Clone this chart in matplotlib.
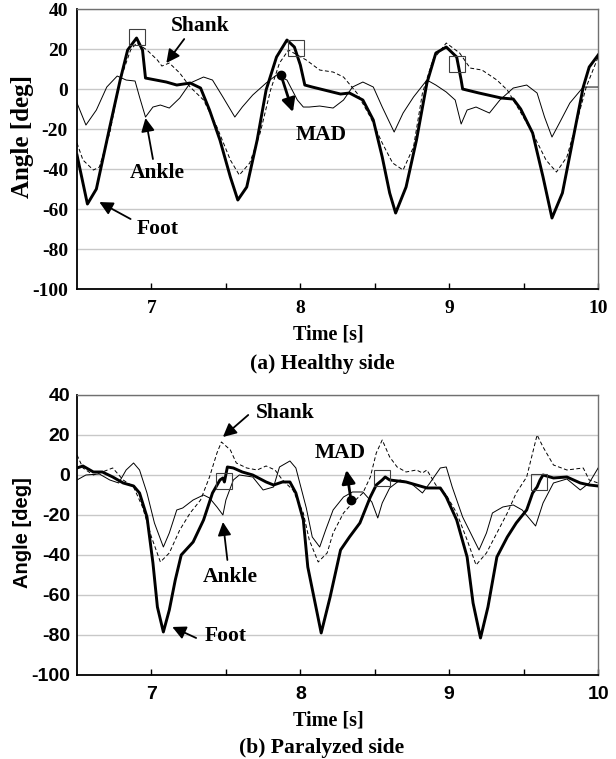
import numpy as np
import matplotlib
matplotlib.use('Agg')
import matplotlib.pyplot as plt

plt.rcParams['axes.unicode_minus'] = False
plt.rcParams['lines.solid_joinstyle'] = 'round'
plt.rcParams['lines.dash_joinstyle'] = 'round'

# (a) healthy side
a_foot_t = [6.50, 6.57, 6.63, 6.72, 6.79, 6.84, 6.90, 6.94, 6.96, 7.10, 7.17, 7.26, 7.33, 7.39, 7.46,
            7.53, 7.58, 7.64, 7.71, 7.77, 7.84, 7.91, 7.96, 8.00, 8.03, 8.08, 8.27, 8.33, 8.42, 8.49,
            8.55, 8.60, 8.64, 8.71, 8.78, 8.85, 8.91, 8.98, 9.05, 9.08, 9.09, 9.20, 9.35, 9.43, 9.48,
            9.56, 9.63, 9.69, 9.76, 9.83, 9.90, 9.94, 10.0]
a_foot = [-33, -57.5, -50, -19, 4.5, 19.5, 25.5, 19.5, 5.5, 3.5, 2, 3, 0.5, -10.5, -25.5,
          -44, -55.5, -49, -25.5, -0.5, 16, 24.5, 21, 12, 2, 1, -2.5, -2, -5.5, -15.5,
          -34, -52, -62, -49, -25.5, 3, 18, 21, 16, 4.5, 0, -2, -4.5, -5, -10,
          -22, -44, -64.5, -52, -25.5, 1, 11, 17]

a_shank_t = [6.50, 6.54, 6.61, 6.65, 6.72, 6.79, 6.86, 6.90, 6.97, 7.04, 7.07, 7.12, 7.19, 7.26, 7.35,
             7.44, 7.53, 7.59, 7.66, 7.73, 7.80, 7.86, 7.92, 8.04, 8.13, 8.22, 8.29, 8.38, 8.47, 8.55,
             8.62, 8.69, 8.76, 8.82, 8.89, 8.98, 9.07, 9.14, 9.22, 9.32, 9.39, 9.47, 9.56, 9.65, 9.72,
             9.79, 9.86, 9.92, 10.0]
a_shank = [-27, -35.5, -40.5, -39, -22, 4.5, 19.5, 23, 19.5, 14.5, 11.5, 13, 8, 1, -5.5,
           -19, -35.5, -43, -37, -22, -0.5, 13, 19.5, 14.5, 9.5, 8.5, 6, -2, -14, -27,
           -37, -40.5, -29, -2, 14.5, 23, 18, 10.5, 9.5, 4.5, -0.5, -10.5, -22, -35.5, -41.5,
           -34, -15.5, 1, 16]

a_ankle_t = [6.50, 6.56, 6.63, 6.70, 6.77, 6.83, 6.89, 6.92, 6.96, 7.01, 7.06, 7.12, 7.19, 7.26, 7.35,
             7.41, 7.48, 7.56, 7.61, 7.68, 7.77, 7.84, 7.91, 7.98, 8.02, 8.06, 8.13, 8.22, 8.29, 8.35,
             8.42, 8.49, 8.55, 8.63, 8.69, 8.76, 8.85, 8.91, 8.98, 9.04, 9.08, 9.12, 9.18, 9.27, 9.34,
             9.43, 9.52, 9.59, 9.64, 9.69, 9.74, 9.81, 9.90, 10.0]
a_ankle = [-7, -18, -10.5, 1, 6.5, 4.5, 4, -4, -14, -9, -8, -9.5, -4.5, 3, 6,
           4.5, -4, -14, -9, -3, 3, 7, 4.5, -5.5, -9, -9, -8.5, -9.5, -5.5, 1,
           3.5, 1, -9, -21.5, -12, -4, 4.5, 2, -1.5, -5.5, -17.5, -10.5, -9, -12, -5.5,
           0.5, 2, -2, -14, -24, -17, -7, 1, 1]

a_square_t = [6.90, 7.97, 9.05]
a_square = [26, 20.5, 12.5]
a_mad_t, a_mad = 7.87, 7

# (b) paralyzed side
b_foot_t = [6.50, 6.54, 6.61, 6.67, 6.74, 6.81, 6.88, 6.92, 6.97, 7.01, 7.04, 7.08, 7.12, 7.16, 7.20,
            7.28, 7.35, 7.41, 7.46, 7.48, 7.49, 7.51, 7.55, 7.61, 7.68, 7.77, 7.82, 7.88, 7.93, 7.97,
            8.02, 8.05, 8.14, 8.20, 8.27, 8.33, 8.40, 8.47, 8.51, 8.55, 8.57, 8.60, 8.71, 8.85, 8.94,
            8.98, 9.05, 9.12, 9.16, 9.21, 9.26, 9.32, 9.39, 9.45, 9.52, 9.56, 9.59, 9.61, 9.63, 9.70,
            9.79, 9.88, 9.94, 10.0]
b_foot = [3.5, 4.5, 1.5, 1.5, -1, -4, -5.5, -9, -21, -44, -66, -78.5, -67.5, -52.5, -40,
          -33.5, -22.5, -9, -2.5, -1.5, -3.5, 4, 3.5, 1.5, 0, -3.5, -5, -3.5, -3.5, -9,
          -22.5, -46, -79, -61, -37.5, -31, -24, -11, -5, -2.5, -1, -2.5, -3.5, -6.5, -6.5,
          -11, -22.5, -41, -64, -81.5, -66, -41, -31, -24, -17.5, -9, -6, -2.5, 0, -1.5,
          -1, -4, -5, -5.5]

b_shank_t = [6.50, 6.54, 6.61, 6.67, 6.74, 6.81, 6.88, 6.94, 7.00, 7.06, 7.12, 7.19, 7.26, 7.33, 7.39,
             7.44, 7.47, 7.53, 7.57, 7.64, 7.71, 7.77, 7.83, 7.88, 7.95, 8.02, 8.06, 8.12, 8.18, 8.22,
             8.29, 8.35, 8.42, 8.47, 8.51, 8.55, 8.60, 8.65, 8.71, 8.78, 8.82, 8.85, 8.91, 8.98, 9.05,
             9.12, 9.18, 9.25, 9.32, 9.39, 9.45, 9.52, 9.56, 9.59, 9.63, 9.70, 9.79, 9.90, 9.94, 10.0]
b_shank = [10, 3.5, 0, 1.5, 3.5, -2.5, -6, -16, -31, -43.5, -39, -27.5, -19, -12.5, -1,
           11, 16.5, 12.5, 6, 3.5, 2.5, 4.5, 2.5, -2.5, -7.5, -19, -32.5, -43.5, -39, -29,
           -19, -14, -9, -1, 11, 17.5, 9, 4, 1.5, 2.5, 1, 2.5, -5, -10, -19,
           -32.5, -45, -39, -29, -19, -9, -1, 11, 20, 14, 5, 2.5, 3.5, -2.5, -4]

b_ankle_t = [6.50, 6.56, 6.65, 6.72, 6.78, 6.83, 6.88, 6.92, 6.97, 7.02, 7.08, 7.12, 7.17, 7.21, 7.28,
             7.35, 7.39, 7.44, 7.48, 7.50, 7.55, 7.59, 7.68, 7.75, 7.82, 7.86, 7.93, 7.97, 8.04, 8.08,
             8.13, 8.17, 8.22, 8.29, 8.35, 8.42, 8.48, 8.52, 8.55, 8.60, 8.67, 8.74, 8.82, 8.87, 8.94,
             8.98, 9.02, 9.09, 9.20, 9.25, 9.29, 9.36, 9.43, 9.49, 9.58, 9.63, 9.70, 9.79, 9.88, 9.94,
             10.0]
b_ankle = [-2.5, 0, 0.5, -2.5, -4, 2.5, 6, 2.5, -9, -24, -36, -29, -17.5, -16.5, -12.5,
           -10, -11.5, -16, -20, -12.5, -2.5, 0, -1, -7.5, -6, 4, 7, 3.5, -16.5, -31,
           -36, -27.5, -17.5, -11, -8.5, -8.5, -13.5, -21.5, -14, -6.5, -2.5, -4, -9, -4, 3.5,
           4, -6, -21, -37.5, -29, -19, -16, -15, -17.5, -25.5, -14, -4, -2, -7.5, -4,
           3.5]

b_square_t = [7.49, 8.55, 9.60]
b_square = [-3, -1.5, -3.5]
b_mad_t, b_mad = 8.34, -12.5

yticks = [40, 20, 0, -20, -40, -60, -80, -100]
xticks = [7, 8, 9, 10]

SERIF = 'Liberation Serif'
SANS = 'Liberation Sans'

fig = plt.figure(figsize=(6.16, 7.59), dpi=100)
ax1 = fig.add_axes([0.125, 0.6192, 0.846, 0.3689])
ax2 = fig.add_axes([0.125, 0.1107, 0.846, 0.3689])


def draw(ax, foot, shank, ankle, squares, mad, tick_font, ylab_size, ylab_y, ypad):
    ax.plot(ankle[0], ankle[1], color='black', lw=0.7, zorder=3)
    ax.plot(shank[0], shank[1], color='black', lw=0.7, dashes=(4, 2.5), zorder=3)
    ax.plot(foot[0], foot[1], color='black', lw=2.1, zorder=4)
    ax.plot(squares[0], squares[1], 's', ms=11, mfc='none', mec='#404040', mew=0.8, zorder=5)
    ax.plot([mad[0]], [mad[1]], 'o', ms=6, color='black', zorder=6)

    ax.set_xlim(6.5, 10)
    ax.set_ylim(-100, 40)
    ax.set_yticks(yticks)
    ax.set_xticks(xticks)
    ax.set_xticks([7.5, 8.5, 9.5], minor=True)
    ax.yaxis.grid(True, color='#c8c8c8', lw=1.0)
    ax.set_axisbelow(True)
    ax.tick_params(axis='x', which='both', direction='in', length=4, width=1, pad=8)
    ax.tick_params(axis='y', length=0, pad=ypad)
    for lab in ax.get_xticklabels() + ax.get_yticklabels():
        lab.set_fontfamily(tick_font)
        lab.set_fontweight('bold')
        lab.set_fontsize(14)
    for side in ['left', 'bottom']:
        ax.spines[side].set_linewidth(1.3)
    for side in ['top', 'right']:
        ax.spines[side].set_color('#707070')
        ax.spines[side].set_linewidth(1.0)
    ax.set_xlabel('Time [s]', family=SERIF, weight='bold', fontsize=14.5, va='center')
    ax.xaxis.set_label_coords(0.482, -0.163)
    ax.set_ylabel('Angle [deg]', family=tick_font, weight='bold', fontsize=ylab_size, va='center')
    ax.yaxis.set_label_coords(-0.104, ylab_y)


def label(ax, text, txt_pos, tail, head, lw=1.3):
    ax.text(txt_pos[0], txt_pos[1], text, family=SERIF, weight='bold', fontsize=15.5,
            ha='center', va='center', zorder=7)
    ax.annotate('', xy=head, xytext=tail,
                arrowprops=dict(arrowstyle='-|>,head_length=0.8,head_width=0.4',
                                lw=lw, color='black', shrinkA=0, shrinkB=0), zorder=7)


draw(ax1, (a_foot_t, a_foot), (a_shank_t, a_shank), (a_ankle_t, a_ankle),
     (a_square_t, a_square), (a_mad_t, a_mad), SERIF, 18, 0.546, 6.5)
label(ax1, 'Shank', (7.33, 31.5), (7.22, 25), (7.10, 13))
label(ax1, 'Ankle', (7.04, -42), (7.01, -35), (6.96, -14.5))
label(ax1, 'Foot', (7.04, -70), (6.86, -65), (6.65, -56.5))
label(ax1, 'MAD', (8.14, -23), (a_mad_t, a_mad), (7.95, -11.5), lw=2)

draw(ax2, (b_foot_t, b_foot), (b_shank_t, b_shank), (b_ankle_t, b_ankle),
     (b_square_t, b_square), (b_mad_t, b_mad), SANS, 14.5, 0.51, 5)
label(ax2, 'Shank', (7.90, 31), (7.65, 30), (7.48, 19))
label(ax2, 'Ankle', (7.53, -51), (7.51, -42.5), (7.48, -23.5))
label(ax2, 'Foot', (7.50, -80.5), (7.30, -81.5), (7.14, -76))
label(ax2, 'MAD', (8.27, 11), (b_mad_t, b_mad), (8.31, 2.5), lw=2)

fig.text(322 / 616, 1 - 364 / 759, '(a) Healthy side', family=SERIF, weight='bold',
         fontsize=15.5, ha='center', va='center')
fig.text(322 / 616, 1 - 748 / 759, '(b) Paralyzed side', family=SERIF, weight='bold',
         fontsize=15.5, ha='center', va='center')

fig.savefig('out.png', dpi=100)
